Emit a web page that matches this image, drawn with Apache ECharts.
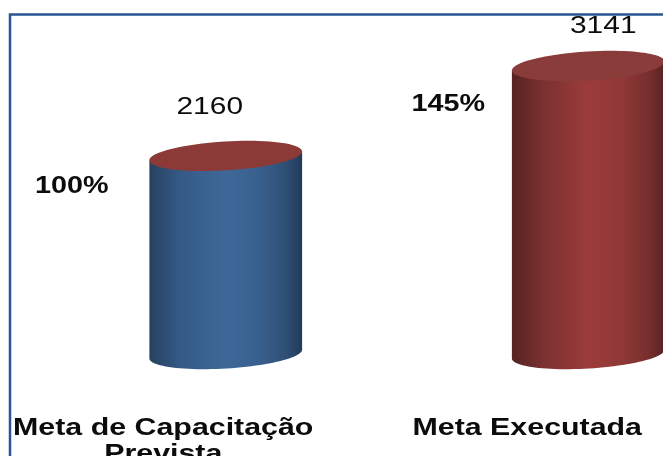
<!DOCTYPE html>
<html>
<head>
<meta charset="utf-8">
<style>html,body{margin:0;padding:0;background:#fff;overflow:hidden}#c{width:663px;height:456px}</style>
<script src="https://cdn.jsdelivr.net/npm/echarts@6/dist/echarts.min.js"></script>
</head>
<body>
<div id="c"></div>
<script>
var categories = ['Meta de Capacitação\nPrevista', 'Meta Executada'];
var values = [2160, 3141];
var percents = ['100%', '145%'];
var sideColors = [
  ['#27415f', '#345a86', '#3f6899', '#38608e', '#2e4e74', '#223a58'],
  ['#552423', '#7a302f', '#9c3c3a', '#8f3837', '#762e2d', '#552423']
];
var sideStops = [0, 0.2, 0.5, 0.72, 0.9, 1];
var capColors = ['#8c3a38', '#8a3c3a'];

var RX = 76.5, RY = 14.5, TILT = 0.06;
var valueLabelDx = [-16, 15], valueLabelDy = [-48.5, -39];
var percentDx = [-154, -140], percentDy = [30.5, 38.5];
var catLabelDx = [-62.5, -61];

function ellipsePt(cx, cy, t) {
  var ex = RX * Math.cos(t), ey = RY * Math.sin(t);
  return [cx + ex * Math.cos(TILT) + ey * Math.sin(TILT),
          cy - ex * Math.sin(TILT) + ey * Math.cos(TILT)];
}
function txt(x, y, s, font, sx) {
  return { type: 'text', x: x, y: y, scaleX: sx, silent: true,
    style: { text: s, font: font, align: 'center', verticalAlign: 'middle',
             lineHeight: 26, fill: '#0c0c0c' } };
}
function renderItem(params, api) {
  var i = api.value(0), v = api.value(1);
  var top = api.coord([i, v]), base = api.coord([i, 0]);
  var cx = top[0], pts = [], k;
  pts.push(ellipsePt(cx, top[1], Math.PI));
  for (k = 0; k <= 48; k++) pts.push(ellipsePt(cx, base[1], Math.PI - Math.PI * k / 48));
  pts.push(ellipsePt(cx, top[1], 0));
  var stops = sideColors[i].map(function (c, n) { return { offset: sideStops[n], color: c }; });
  return { type: 'group', children: [
    { type: 'polygon', shape: { points: pts },
      style: { fill: new echarts.graphic.LinearGradient(0, 0, 1, 0, stops) } },
    { type: 'ellipse', x: cx, y: top[1], rotation: TILT,
      shape: { cx: 0, cy: 0, rx: RX, ry: RY }, style: { fill: capColors[i] } },
    txt(cx + valueLabelDx[i], top[1] + valueLabelDy[i], String(v), '23px "Liberation Sans"', 1.3),
    txt(cx + percentDx[i], top[1] + percentDy[i], percents[i], 'bold 23px "Liberation Sans"', 1.25),
    { type: 'text', x: cx + catLabelDx[i], y: 416, scaleX: 1.32, silent: true,
      style: { text: categories[i], font: 'bold 23px "Liberation Sans"', align: 'center',
               verticalAlign: 'top', lineHeight: 26, fill: '#0c0c0c' } }
  ]};
}
var chart = echarts.init(document.getElementById('c'), null, { renderer: 'canvas' });
chart.setOption({
  animation: false,
  backgroundColor: '#ffffff',
  grid: { left: 44.5, top: 33, right: -106.5, bottom: 102, outerBoundsMode: 'none' },
  xAxis: { type: 'category', data: categories, show: false },
  yAxis: { type: 'value', min: 0, max: 3500, show: false },
  graphic: [{ type: 'rect', shape: { x: 10, y: 14.5, width: 720, height: 520 }, silent: true, z: 0,
    style: { fill: 'none', stroke: '#2a5690', lineWidth: 2.5 } }],
  series: [{ type: 'custom', clip: false, renderItem: renderItem,
    encode: { x: 0, y: 1 },
    data: values.map(function (v, i) { return [i, v]; }) }]
});
</script>
</body>
</html>
